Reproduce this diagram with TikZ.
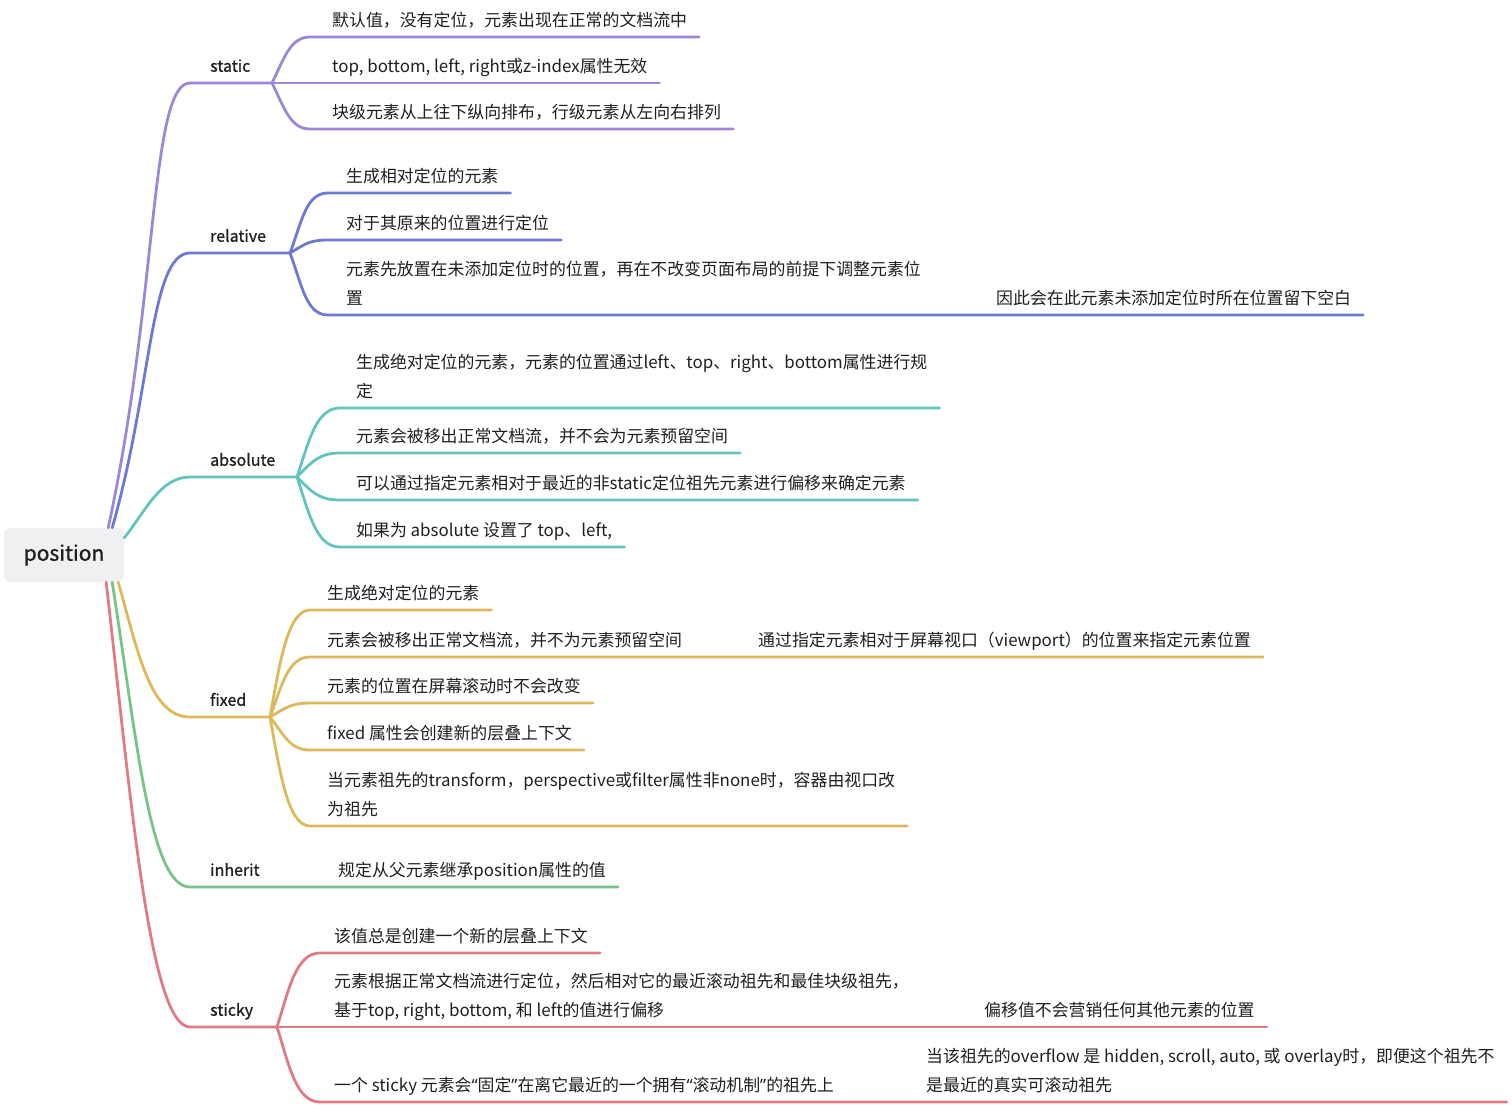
\documentclass[tikz,border=0pt]{standalone}
\usepackage{fontspec}
\setmainfont{Noto Sans CJK SC}
\newfontfamily\labelfont[FakeBold=1]{Noto Sans CJK SC}
\newfontfamily\quotefont{Noto Sans}
\newcommand{\qopen}{{\quotefont “}}
\newcommand{\qclose}{{\quotefont ”}}
\usetikzlibrary{calc}

\definecolor{txt}{HTML}{1F1F1F}
\definecolor{rootfill}{HTML}{EEF0F1}
\definecolor{cstatic}{HTML}{9E86D8}
\definecolor{crelative}{HTML}{6C7AD6}
\definecolor{cabsolute}{HTML}{62C4BE}
\definecolor{cfixed}{HTML}{DEB85A}
\definecolor{cinherit}{HTML}{76C486}
\definecolor{csticky}{HTML}{DE7C82}

\begin{document}
\begin{tikzpicture}[line cap=round,line join=round,x=1pt,y=-1pt,
  leaf/.style={anchor=south west,inner xsep=0pt,inner ysep=0pt,text depth=10.5pt,align=left,
    font=\fontsize{16.9}{29}\selectfont,text=txt},
  branch/.style={anchor=south west,inner sep=0pt,text depth=11pt,font=\labelfont\fontsize{16}{20}\selectfont,text=txt},
  wire/.style={line width=2.8pt}]
\useasboundingbox (0,0) rectangle (1512,1105);

\node[fill=rootfill,rounded corners=6pt,minimum width=120pt,minimum height=54pt,inner sep=0pt,
  text=txt,font=\labelfont\fontsize{21}{24}\selectfont] (root) at (64,555) {position};

% static
\node[branch] (static) at (210,83) {static};
\coordinate (static-j) at ([xshift=62]static.south west);
\node[leaf] (static-1) at (332,37) {默认值，没有定位，元素出现在正常的文档流中};
\node[leaf] (static-2) at (332,83) {top, bottom, left, right或z-index属性无效};
\node[leaf] (static-3) at (332,129) {块级元素从上往下纵向排布，行级元素从左向右排列};
\draw[wire,cstatic] ([xshift=-16]root.north east) .. controls +(50,-230) and +(-40,0) .. ([xshift=-20]static.south west) -- (static-j);
\draw[wire,cstatic] (static-j) .. controls +(12,-24) and +(-20,0) .. ([xshift=-22]static-1.south west) -- ([xshift=12]static-1.south east);
\draw[wire,cstatic] (static-j) -- ([xshift=12]static-2.south east);
\draw[wire,cstatic] (static-j) .. controls +(12,24) and +(-20,0) .. ([xshift=-22]static-3.south west) -- ([xshift=12]static-3.south east);

% relative
\node[branch] (relative) at (210,253) {relative};
\coordinate (relative-j) at ([xshift=80]relative.south west);
\node[leaf] (relative-1) at (346,193) {生成相对定位的元素};
\node[leaf] (relative-2) at (346,240) {对于其原来的位置进行定位};
\node[leaf] (relative-3) at (346,315) {元素先放置在未添加定位时的位置，再在不改变页面布局的前提下调整元素位\\置};
\node[leaf] (relative-3b) at (996,315) {因此会在此元素未添加定位时所在位置留下空白};
\draw[wire,crelative] ([xshift=-12]root.north east) .. controls +(40,-140) and +(-40,0) .. ([xshift=-20]relative.south west) -- (relative-j);
\draw[wire,crelative] (relative-j) .. controls +(12,-32) and +(-22,0) .. ([xshift=-18]relative-1.south west) -- ([xshift=12]relative-1.south east);
\draw[wire,crelative] (relative-j) .. controls +(14,-8) and +(-20,0) .. ([xshift=-18]relative-2.south west) -- ([xshift=12]relative-2.south east);
\draw[wire,crelative] (relative-j) .. controls +(12,32) and +(-22,0) .. ([xshift=-18]relative-3.south west) -- ([xshift=12]relative-3b.south east);

% absolute
\node[branch] (absolute) at (210,477) {absolute};
\coordinate (absolute-j) at ([xshift=87]absolute.south west);
\node[leaf] (absolute-1) at (356,408) {生成绝对定位的元素，元素的位置通过left、top、right、bottom属性进行规\\定};
\node[leaf] (absolute-2) at (356,453) {元素会被移出正常文档流，并不会为元素预留空间};
\node[leaf] (absolute-3) at (356,500) {可以通过指定元素相对于最近的非static定位祖先元素进行偏移来确定元素};
\node[leaf] (absolute-4) at (356,547) {如果为 absolute 设置了 top、left,};
\draw[wire,cabsolute] ([yshift=-10]root.north east) .. controls +(21,-26) and +(-30,0) .. ([xshift=-20]absolute.south west) -- (absolute-j);
\draw[wire,cabsolute] (absolute-j) .. controls +(12,-36) and +(-24,0) .. ([xshift=-16]absolute-1.south west) -- ([xshift=12]absolute-1.south east);
\draw[wire,cabsolute] (absolute-j) .. controls +(14,-14) and +(-22,0) .. ([xshift=-16]absolute-2.south west) -- ([xshift=12]absolute-2.south east);
\draw[wire,cabsolute] (absolute-j) .. controls +(14,14) and +(-22,0) .. ([xshift=-16]absolute-3.south west) -- ([xshift=12]absolute-3.south east);
\draw[wire,cabsolute] (absolute-j) .. controls +(12,36) and +(-24,0) .. ([xshift=-16]absolute-4.south west) -- ([xshift=12]absolute-4.south east);

% fixed
\node[branch] (fixed) at (210,717) {fixed};
\coordinate (fixed-j) at ([xshift=60]fixed.south west);
\node[leaf] (fixed-1) at (327,610) {生成绝对定位的元素};
\node[leaf] (fixed-2) at (327,657) {元素会被移出正常文档流，并不为元素预留空间};
\node[leaf] (fixed-2b) at (758,657) {通过指定元素相对于屏幕视口（viewport）的位置来指定元素位置};
\node[leaf] (fixed-3) at (327,703) {元素的位置在屏幕滚动时不会改变};
\node[leaf] (fixed-4) at (327,750) {fixed 属性会创建新的层叠上下文};
\node[leaf] (fixed-5) at (327,826) {当元素祖先的transform，perspective或filter属性非none时，容器由视口改\\为祖先};
\draw[wire,cfixed] ([xshift=-6]root.south east) .. controls +(20,70) and +(-40,0) .. ([xshift=-20]fixed.south west) -- (fixed-j);
\draw[wire,cfixed] (fixed-j) .. controls +(10,-56) and +(-22,0) .. ([xshift=-17]fixed-1.south west) -- ([xshift=12]fixed-1.south east);
\draw[wire,cfixed] (fixed-j) .. controls +(12,-32) and +(-22,0) .. ([xshift=-17]fixed-2.south west) -- ([xshift=12]fixed-2b.south east);
\draw[wire,cfixed] (fixed-j) .. controls +(14,-8) and +(-20,0) .. ([xshift=-17]fixed-3.south west) -- ([xshift=12]fixed-3.south east);
\draw[wire,cfixed] (fixed-j) .. controls +(14,18) and +(-20,0) .. ([xshift=-17]fixed-4.south west) -- ([xshift=12]fixed-4.south east);
\draw[wire,cfixed] (fixed-j) .. controls +(10,56) and +(-22,0) .. ([xshift=-17]fixed-5.south west) -- ([xshift=12]fixed-5.south east);

% inherit
\node[branch] (inherit) at (210,887) {inherit};
\node[leaf] (inherit-1) at (338,887) {规定从父元素继承position属性的值};
\draw[wire,cinherit] ([xshift=-12]root.south east) .. controls +(25,160) and +(-40,0) .. ([xshift=-20]inherit.south west) -- ([xshift=12]inherit-1.south east);

% sticky
\node[branch] (sticky) at (210,1027) {sticky};
\coordinate (sticky-j) at ([xshift=67]sticky.south west);
\node[leaf] (sticky-1) at (334,953) {该值总是创建一个新的层叠上下文};
\node[leaf] (sticky-2) at (334,1027) {元素根据正常文档流进行定位，然后相对它的最近滚动祖先和最佳块级祖先，\\基于top, right, bottom, 和 left的值进行偏移};
\node[leaf] (sticky-2b) at (984,1027) {偏移值不会营销任何其他元素的位置};
\node[leaf] (sticky-3) at (334,1102) {一个 sticky 元素会\qopen 固定\qclose 在离它最近的一个拥有\qopen 滚动机制\qclose 的祖先上};
\node[leaf] (sticky-3b) at (926,1102) {当该祖先的overflow 是 hidden, scroll, auto, 或 overlay时，即便这个祖先不\\是最近的真实可滚动祖先};
\draw[wire,csticky] ([xshift=-18]root.south east) .. controls +(25,220) and +(-40,0) .. ([xshift=-20]sticky.south west) -- (sticky-j);
\draw[wire,csticky] (sticky-j) .. controls +(12,-38) and +(-24,0) .. ([xshift=-14]sticky-1.south west) -- ([xshift=12]sticky-1.south east);
\draw[wire,csticky] (sticky-j) -- ([xshift=12]sticky-2b.south east);
\draw[wire,csticky] (sticky-j) .. controls +(12,38) and +(-24,0) .. ([xshift=-14]sticky-3.south west) -- ([xshift=12]sticky-3b.south east);
\end{tikzpicture}
\end{document}
